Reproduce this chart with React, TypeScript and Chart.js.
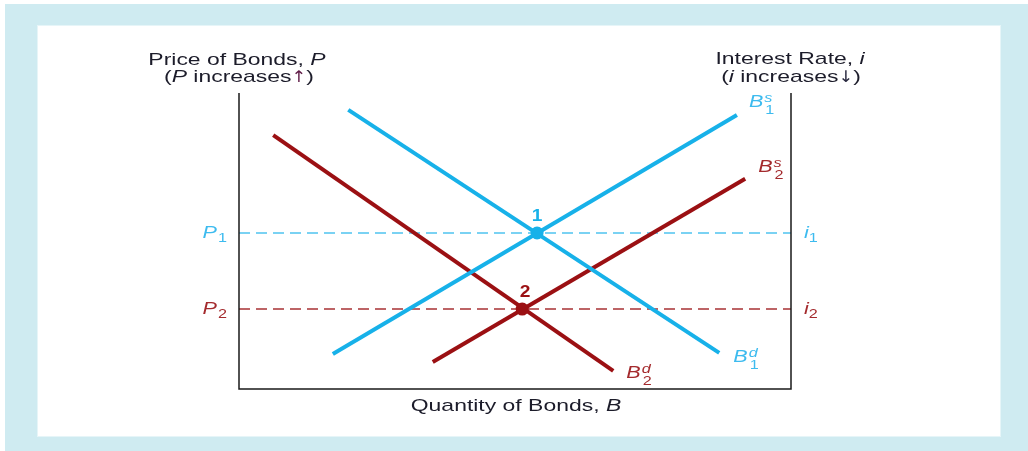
import React, { useEffect, useRef } from "react";
import { Chart, registerables } from "chart.js";

Chart.register(...registerables);

// ---- data (quantity of bonds on x, price of bonds on y, 0-100 units) ----
const demand1Q = [19.8, 87.0];
const demand1P = [94.3, 12.2];
const supply1Q = [17.0, 90.2];
const supply1P = [11.8, 92.6];
const demand2Q = [6.2, 67.8];
const demand2P = [85.8, 6.1];
const supply2Q = [35.1, 91.7];
const supply2P = [9.1, 71.0];
const equilibriumQ = [54.0, 51.3];
const equilibriumP = [52.7, 27.0];
const equilibriumNames = ["1", "2"];
const priceLevelNames = ["P", "P"];
const rateLevelNames = ["i", "i"];
const levelSubs = ["1", "2"];
const axisRange = [0, 100];

const BLUE = "#17b1e9";
const BLUE_LIGHT = "#4fc3ef";
const BLUE_TEXT = "#3dbbef";
const RED = "#9b1013";
const RED_LIGHT = "#a83235";
const RED_TEXT = "#a42a2d";
const TEXT = "#1c1c2a";
const FAM = '"Liberation Sans", Arial, sans-serif';
const ARROW_FAM = '"DejaVu Sans", sans-serif';
const SX = 1.35;

const pts = (xs: number[], ys: number[]) => xs.map((x, i) => ({ x, y: ys[i] }));

type Seg = { t: string; font: string; color: string; dy?: number; dx?: number; noAdvance?: boolean; sx?: number };

function segWidth(ctx: CanvasRenderingContext2D, s: Seg) {
  ctx.font = s.font;
  return ctx.measureText(s.t).width * (s.sx ?? SX);
}

function drawRich(ctx: CanvasRenderingContext2D, segs: Seg[], x: number, y: number, align: "left" | "center" | "right") {
  let total = 0;
  segs.forEach((s) => {
    if (!s.noAdvance) total += segWidth(ctx, s) + (s.dx || 0);
  });
  let cx = align === "left" ? x : align === "center" ? x - total / 2 : x - total;
  segs.forEach((s) => {
    const w = segWidth(ctx, s);
    ctx.save();
    ctx.translate(cx + (s.dx || 0), y + (s.dy || 0));
    ctx.scale(s.sx ?? SX, 1);
    ctx.font = s.font;
    ctx.fillStyle = s.color;
    ctx.textBaseline = "alphabetic";
    ctx.textAlign = "left";
    ctx.fillText(s.t, 0, 0);
    ctx.restore();
    if (!s.noAdvance) cx += w + (s.dx || 0);
  });
}

function curveLabel(ctx: CanvasRenderingContext2D, x: number, y: number, sup: string, sub: string, color: string) {
  drawRich(
    ctx,
    [
      { t: "B", font: `italic 16px ${FAM}`, color },
      { t: sup, font: `italic 12px ${FAM}`, color, dy: -5, dx: 1, noAdvance: true },
      { t: sub, font: `12px ${FAM}`, color, dy: 7, dx: 2 },
    ],
    x,
    y,
    "left"
  );
}

const labelsPlugin = {
  id: "bondLabels",
  afterDraw(chart: any) {
    const ctx: CanvasRenderingContext2D = chart.ctx;
    const { left, right, top, bottom } = chart.chartArea;
    const xs = chart.scales.x;
    const ys = chart.scales.y;
    ctx.save();
    // axes lines
    ctx.strokeStyle = "#1a1a1a";
    ctx.lineWidth = 1.5;
    ctx.beginPath();
    ctx.moveTo(left, top);
    ctx.lineTo(left, bottom);
    ctx.lineTo(right, bottom);
    ctx.lineTo(right, top);
    ctx.stroke();

    const reg = `17px ${FAM}`;
    const ita = `italic 17px ${FAM}`;
    const arrow = `16px ${ARROW_FAM}`;
    // titles
    drawRich(ctx, [{ t: "Price of Bonds, ", font: reg, color: TEXT }, { t: "P", font: ita, color: TEXT }], left - 2, top - 28, "center");
    drawRich(
      ctx,
      [
        { t: "(", font: reg, color: TEXT },
        { t: "P", font: ita, color: TEXT },
        { t: " increases", font: reg, color: TEXT },
        { t: "↑", font: arrow, color: "#5e1a45", sx: 1.1 },
        { t: ")", font: reg, color: TEXT },
      ],
      left,
      top - 11,
      "center"
    );
    drawRich(ctx, [{ t: "Interest Rate, ", font: reg, color: TEXT }, { t: "i", font: ita, color: TEXT }], right - 1, top - 29, "center");
    drawRich(
      ctx,
      [
        { t: "(", font: reg, color: TEXT },
        { t: "i", font: ita, color: TEXT },
        { t: " increases", font: reg, color: TEXT },
        { t: "↓", font: arrow, color: "#2a2a40", sx: 1.1 },
        { t: ")", font: reg, color: TEXT },
      ],
      right,
      top - 11,
      "center"
    );
    drawRich(
      ctx,
      [{ t: "Quantity of Bonds, ", font: reg, color: TEXT }, { t: "B", font: ita, color: TEXT }],
      (left + right) / 2 + 1,
      bottom + 22,
      "center"
    );

    // price / rate level labels
    const levelColors = [BLUE_TEXT, RED_TEXT];
    const markColors = [BLUE, RED];
    equilibriumP.forEach((p, i) => {
      const py = ys.getPixelForValue(p);
      const c = levelColors[i];
      drawRich(
        ctx,
        [
          { t: priceLevelNames[i], font: `italic 16px ${FAM}`, color: c },
          { t: levelSubs[i], font: `12px ${FAM}`, color: c, dy: 4, dx: 1 },
        ],
        left - 12,
        py + 5,
        "right"
      );
      drawRich(
        ctx,
        [
          { t: rateLevelNames[i], font: `italic 16px ${FAM}`, color: c },
          { t: levelSubs[i], font: `12px ${FAM}`, color: c, dy: 4, dx: 0 },
        ],
        right + 13,
        py + 5,
        "left"
      );
    });

    // equilibrium numbers
    equilibriumQ.forEach((q, i) => {
      const px = xs.getPixelForValue(q);
      const py = ys.getPixelForValue(equilibriumP[i]);
      drawRich(ctx, [{ t: equilibriumNames[i], font: `bold 16px ${FAM}`, color: markColors[i], sx: 1.2 }], px + (i === 1 ? 3 : 0), py - 12, "center");
    });

    // curve labels
    curveLabel(ctx, xs.getPixelForValue(supply1Q[1]) + 12, ys.getPixelForValue(supply1P[1]) - 8, "s", "1", BLUE_TEXT);
    curveLabel(ctx, xs.getPixelForValue(supply2Q[1]) + 13, ys.getPixelForValue(supply2P[1]) - 7, "s", "2", RED_TEXT);
    curveLabel(ctx, xs.getPixelForValue(demand1Q[1]) + 14, ys.getPixelForValue(demand1P[1]) + 9, "d", "1", BLUE_TEXT);
    curveLabel(ctx, xs.getPixelForValue(demand2Q[1]) + 13, ys.getPixelForValue(demand2P[1]) + 7, "d", "2", RED_TEXT);
    ctx.restore();
  },
};

export default function App() {
  const ref = useRef<HTMLCanvasElement | null>(null);

  useEffect(() => {
    document.body.style.margin = "0";
    if (!ref.current) return;
    const lineDs = (label: string, data: any[], color: string) => ({
      label,
      data,
      showLine: true,
      borderColor: color,
      backgroundColor: color,
      borderWidth: 4,
      pointRadius: 0,
      order: 1,
    });
    const dashDs = (label: string, y: number, color: string) => ({
      label,
      data: [
        { x: axisRange[0], y },
        { x: axisRange[1], y },
      ],
      showLine: true,
      borderColor: color,
      borderWidth: 1.5,
      borderDash: [11, 6],
      pointRadius: 0,
      order: 2,
    });
    const chart = new Chart(ref.current, {
      type: "scatter",
      data: {
        datasets: [
          lineDs("B1s", pts(supply1Q, supply1P), BLUE),
          lineDs("B1d", pts(demand1Q, demand1P), BLUE),
          lineDs("B2s", pts(supply2Q, supply2P), RED),
          lineDs("B2d", pts(demand2Q, demand2P), RED),
          dashDs("P1", equilibriumP[0], BLUE_LIGHT),
          dashDs("P2", equilibriumP[1], RED_LIGHT),
          {
            label: "eq",
            data: pts(equilibriumQ, equilibriumP),
            pointRadius: 6.5,
            pointBackgroundColor: [BLUE, RED],
            pointBorderWidth: 0,
            showLine: false,
            order: 0,
          } as any,
        ],
      },
      options: {
        animation: false,
        responsive: false,
        devicePixelRatio: 1,
        layout: { padding: { left: 239, right: 237, top: 93, bottom: 62 } },
        plugins: { legend: { display: false }, tooltip: { enabled: false } },
        scales: {
          x: { type: "linear", min: axisRange[0], max: axisRange[1], display: false },
          y: { type: "linear", min: axisRange[0], max: axisRange[1], display: false },
        },
      },
      plugins: [labelsPlugin],
    });
    return () => chart.destroy();
  }, []);

  return (
    <div style={{ position: "relative", width: 1028, height: 451, overflow: "hidden" }}>
      <div style={{ position: "absolute", left: 5, top: 4, right: 0, bottom: 0, background: "#cfebf1" }} />
      <div style={{ position: "absolute", left: 38, top: 26, width: 962, height: 410, background: "#ffffff", boxShadow: "0 0 0 1px #e6f5f8" }} />
      <canvas ref={ref} width={1028} height={451} style={{ position: "absolute", left: 0, top: 0, width: 1028, height: 451 }} />
    </div>
  );
}
